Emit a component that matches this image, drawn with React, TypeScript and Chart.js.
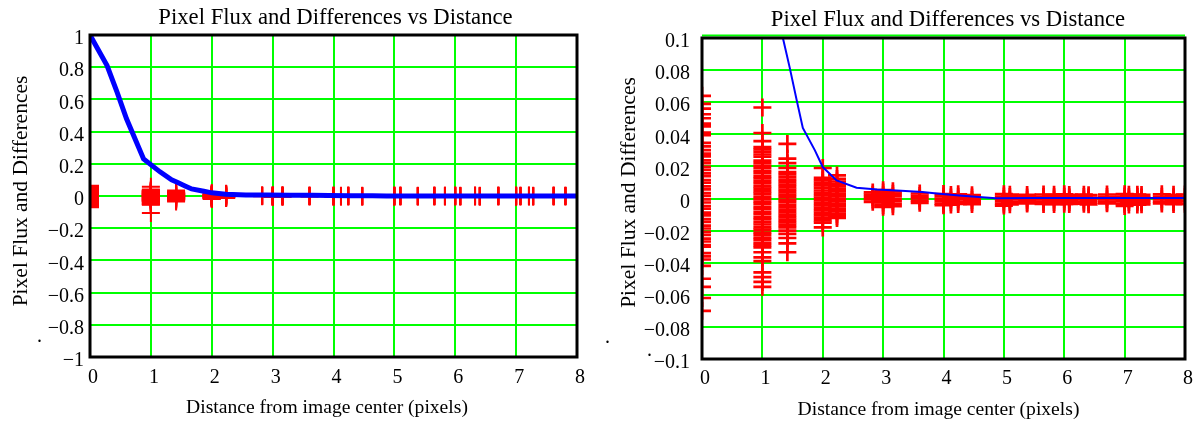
import React, { useEffect, useRef } from "react";
import { Chart, registerables } from "chart.js";
Chart.register(...registerables);

// ---------- data ----------
const chartTitle = "Pixel Flux and Differences vs Distance";
const xAxisTitle = "Distance from image center (pixels)";
const yAxisTitle = "Pixel Flux and Differences";

const xTickValues = [0, 1, 2, 3, 4, 5, 6, 7, 8];
const leftYTickValues = [1, 0.8, 0.6, 0.4, 0.2, 0, -0.2, -0.4, -0.6, -0.8, -1];
const rightYTickValues = [0.1, 0.08, 0.06, 0.04, 0.02, 0, -0.02, -0.04, -0.06, -0.08, -0.1];

const fluxDistance = [0, 0.28, 0.44, 0.6, 0.88, 1.15, 1.34, 1.45, 1.57, 1.67, 1.87, 2.0, 2.23, 2.56, 2.9, 3.3, 3.65, 3.93, 4.26, 4.64, 4.87, 5.5, 8];
const fluxValue = [1, 0.81, 0.65, 0.48, 0.23, 0.15, 0.1, 0.082, 0.061, 0.044, 0.03, 0.0196, 0.0113, 0.0067, 0.0056, 0.0048, 0.004, 0.003, 0.0019, 0.0008, 0.0001, 0.0003, 0.0003];

const diffDistances = [0, 1, 1.414, 2, 2.236, 2.828, 3, 3.162, 3.606, 4, 4.123, 4.243, 4.472, 5, 5.099, 5.385, 5.657, 5.831, 6, 6.083, 6.325, 6.403, 6.708, 7, 7.071, 7.211, 7.28, 7.616, 7.81, 8];
const diffValues = [
  [0.064, 0.059, 0.056, 0.0525, 0.05, 0.0467, 0.045, 0.041, 0.0394, 0.0346, 0.0325, 0.0302, 0.028, 0.0262, 0.0238, 0.0221, 0.0197, 0.0178, 0.0156, 0.0139, 0.0115, 0.0098, 0.0076, 0.0057, 0.0034, 0.0016, -0.0006, -0.0025, -0.0047, -0.0064, -0.0088, -0.0105, -0.0128, -0.0146, -0.0169, -0.0187, -0.0208, -0.0227, -0.025, -0.0268, -0.0291, -0.03, -0.034, -0.036, -0.038, -0.042, -0.05, -0.055, -0.062, -0.07],
  [0.0567, 0.0408, 0.0358, 0.032, 0.0306, 0.029, 0.0274, 0.026, 0.0236, 0.0221, 0.0204, 0.019, 0.0173, 0.0158, 0.014, 0.0126, 0.0109, 0.0094, 0.0076, 0.0062, 0.0045, 0.003, 0.0012, -0.0003, -0.002, -0.0034, -0.0052, -0.0066, -0.0084, -0.0098, -0.0116, -0.013, -0.0148, -0.0162, -0.018, -0.0194, -0.0212, -0.0226, -0.0244, -0.0258, -0.0276, -0.029, -0.0304, -0.0335, -0.0367, -0.039, -0.046, -0.049, -0.052, -0.055, -0.106],
  [0.034, 0.0248, 0.022, 0.019, 0.0165, 0.015, 0.0134, 0.0118, 0.0102, 0.0087, 0.0071, 0.0055, 0.004, 0.0024, 0.0008, -0.0008, -0.0023, -0.0039, -0.0055, -0.007, -0.0086, -0.0102, -0.0117, -0.0133, -0.0149, -0.0164, -0.018, -0.02, -0.022, -0.0246, -0.028, -0.0335],
  [0.019, 0.0128, 0.0113, 0.0097, 0.0082, 0.0066, 0.005, 0.0035, 0.0019, 0.0004, -0.0012, -0.0027, -0.0043, -0.0058, -0.0074, -0.0089, -0.0105, -0.012, -0.0136, -0.015, -0.018],
  [0.0144, 0.0122, 0.0106, 0.0091, 0.0075, 0.006, 0.0044, 0.0029, 0.0013, -0.0002, -0.0018, -0.0033, -0.0049, -0.0064, -0.008, -0.0095, -0.0111, -0.0121],
  [0.0038, 0.0024, 0.0009, -0.0006, -0.0021],
  [0.0052, 0.0037, 0.0021, 0.0006, -0.001, -0.0025, -0.004, -0.0052],
  [0.0045, 0.003, 0.0014, -0.0002, -0.0017, -0.0033, -0.0048],
  [0.0031, 0.0016, 0.0001, -0.0014, -0.0027],
  [0.0028, 0.0013, -0.0002, -0.0017, -0.0032, -0.0042],
  [0.0022, 0.0007, -0.0008, -0.0023, -0.0038],
  [0.0026, 0.0011, -0.0004, -0.0019, -0.0034],
  [0.0021, 0.0006, -0.0009, -0.0024, -0.0035],
  [0.0027, 0.0012, -0.0003, -0.0018, -0.0033, -0.0044],
  [0.0024, 0.0009, -0.0006, -0.0021, -0.0036],
  [0.0022, 0.0007, -0.0008, -0.0023, -0.0031],
  [0.0025, 0.001, -0.0005, -0.002, -0.0034],
  [0.0023, 0.0008, -0.0007, -0.0022, -0.0035],
  [0.0026, 0.0011, -0.0004, -0.0019, -0.0033],
  [0.0022, 0.0007, -0.0008, -0.0023, -0.0034],
  [0.0024, 0.0009, -0.0006, -0.0021, -0.0032],
  [0.0021, 0.0006, -0.0009, -0.0024, -0.0036],
  [0.0025, 0.001, -0.0005, -0.002, -0.003],
  [0.0027, 0.0012, -0.0003, -0.0018, -0.0033, -0.0046],
  [0.0023, 0.0008, -0.0007, -0.0022, -0.0037],
  [0.0024, 0.0009, -0.0006, -0.0021, -0.0038],
  [0.0022, 0.0007, -0.0008, -0.0023, -0.0036],
  [0.0026, 0.0011, -0.0004, -0.0019, -0.0031],
  [0.0023, 0.0008, -0.0007, -0.0022, -0.0035],
  [0.0025, 0.0008, -0.0017, -0.0033],
];

// ---------- helpers ----------
const FONT = "'Liberation Serif', 'Times New Roman', serif";
Chart.defaults.font.family = FONT;

const fmt = (v: number) => {
  if (Math.abs(v) < 1e-12) return "0";
  const s = String(Math.round(Math.abs(v) * 1000) / 1000);
  return v < 0 ? "\u2212" + s : s;
};

const textPlugin = {
  id: "textLayer",
  afterDraw(chart: any, _args: any, o: any) {
    const ctx = chart.ctx;
    ctx.save();
    ctx.fillStyle = "#000";
    ctx.textAlign = "center";
    ctx.textBaseline = "alphabetic";
    ctx.font = `${o.titleSize}px ${FONT}`;
    ctx.fillText(chartTitle, o.titleX, o.titleY);
    ctx.font = `${o.xTitleSize}px ${FONT}`;
    ctx.fillText(xAxisTitle, o.xTitleX, o.xTitleY);
    ctx.save();
    ctx.translate(o.yTitleX, o.yTitleY);
    ctx.rotate(-Math.PI / 2);
    ctx.font = `${o.yTitleSize}px ${FONT}`;
    ctx.fillText(yAxisTitle, 0, 0);
    ctx.restore();
    ctx.font = `20px ${FONT}`;
    ctx.textAlign = "left";
    (o.dots || []).forEach((d: number[]) => ctx.fillText(".", d[0], d[1]));
    ctx.restore();
  },
};

const framePlugin = {
  id: "frameLayer",
  afterDatasetsDraw(chart: any, _args: any, o: any) {
    const { ctx, chartArea: a } = chart;
    ctx.save();
    if (o.topGreen) {
      ctx.strokeStyle = "#00ff00";
      ctx.lineWidth = 2;
      ctx.beginPath();
      ctx.moveTo(a.left, a.top - 2.5);
      ctx.lineTo(a.right, a.top - 2.5);
      ctx.stroke();
    }
    ctx.strokeStyle = "#000";
    ctx.lineWidth = 3;
    ctx.strokeRect(a.left, a.top, a.right - a.left, a.bottom - a.top);
    ctx.restore();
  },
};

function makeChart(canvas: HTMLCanvasElement, p: any) {
  const redPoints: { x: number; y: number }[] = [];
  diffDistances.forEach((d, i) => diffValues[i].forEach((v) => redPoints.push({ x: d, y: v })));
  const bluePoints = fluxDistance.map((d, i) => ({ x: d, y: fluxValue[i] }));
  const yTicks = p.yTicks as number[];
  const tickFont = { family: FONT, size: 20 };
  return new Chart(canvas, {
    type: "scatter",
    data: {
      datasets: [
        {
          data: bluePoints,
          showLine: true,
          borderColor: "#0000ff",
          backgroundColor: "#0000ff",
          borderWidth: p.blueWidth,
          pointRadius: 0,
          tension: 0,
        },
        {
          data: redPoints,
          showLine: false,
          pointStyle: "cross",
          pointRadius: 9,
          pointBorderWidth: p.redWidth,
          borderColor: "#ff0000",
          backgroundColor: "#ff0000",
          clip: 0,
        } as any,
      ],
    },
    options: {
      animation: false,
      responsive: false,
      devicePixelRatio: 1,
      events: [],
      layout: { padding: { left: 0, right: p.padRight, top: p.padTop, bottom: 0 } },
      plugins: {
        legend: { display: false },
        tooltip: { enabled: false },
        title: { display: false },
        textLayer: p.text,
        frameLayer: { topGreen: p.topGreen },
      } as any,
      scales: {
        x: {
          type: "linear",
          min: 0,
          max: 8,
          afterBuildTicks: (s: any) => {
            s.ticks = xTickValues.map((v) => ({ value: v }));
          },
          afterFit: (s: any) => {
            s.height = p.xHeight;
          },
          grid: { color: "#00ff00", lineWidth: 2, drawTicks: false },
          border: { display: false },
          ticks: {
            font: tickFont,
            color: "#000",
            padding: p.xPad,
            labelOffset: 3,
            maxRotation: 0,
            autoSkip: false,
            callback: (v: any) => fmt(Number(v)),
          },
        },
        y: {
          type: "linear",
          min: yTicks[yTicks.length - 1],
          max: yTicks[0],
          afterBuildTicks: (s: any) => {
            s.ticks = yTicks.slice().reverse().map((v) => ({ value: v }));
          },
          afterFit: (s: any) => {
            s.width = p.yWidth;
          },
          grid: { color: "#00ff00", lineWidth: 2, drawTicks: false },
          border: { display: false },
          ticks: {
            font: tickFont,
            color: "#000",
            padding: p.yPad,
            labelOffset: 4,
            autoSkip: false,
            callback: (v: any) => fmt(Number(v)),
          },
        },
      },
    } as any,
    plugins: [textPlugin, framePlugin],
  });
}

export default function App() {
  const leftRef = useRef<HTMLCanvasElement>(null);
  const rightRef = useRef<HTMLCanvasElement>(null);

  useEffect(() => {
    const left = makeChart(leftRef.current!, {
      yTicks: leftYTickValues,
      blueWidth: 5,
      redWidth: 2,
      padRight: 23,
      padTop: 35,
      xHeight: 66,
      yWidth: 90,
      xPad: 9,
      yPad: 6,
      topGreen: false,
      text: {
        titleSize: 22.7, titleX: 335.5, titleY: 24,
        xTitleSize: 19.6, xTitleX: 327, xTitleY: 413,
        yTitleSize: 21.5, yTitleX: 27, yTitleY: 191,
        dots: [[37, 342]],
      },
    });
    const right = makeChart(rightRef.current!, {
      yTicks: rightYTickValues,
      blueWidth: 2,
      redWidth: 2.7,
      padRight: 17,
      padTop: 38,
      xHeight: 64,
      yWidth: 102,
      xPad: 8,
      yPad: 12,
      topGreen: true,
      text: {
        titleSize: 22.7, titleX: 348, titleY: 26,
        xTitleSize: 19.6, xTitleX: 338.5, xTitleY: 415,
        yTitleSize: 21.5, yTitleX: 35, yTitleY: 192.5,
        dots: [[5, 343], [47, 356]],
      },
    });
    return () => {
      left.destroy();
      right.destroy();
    };
  }, []);

  return (
    <div style={{ position: "relative", width: 1202, height: 423 }}>
      <canvas ref={leftRef} width={600} height={423} style={{ position: "fixed", left: 0, top: 0, width: 600, height: 423 }} />
      <canvas ref={rightRef} width={602} height={423} style={{ position: "fixed", left: 600, top: 0, width: 602, height: 423 }} />
    </div>
  );
}
